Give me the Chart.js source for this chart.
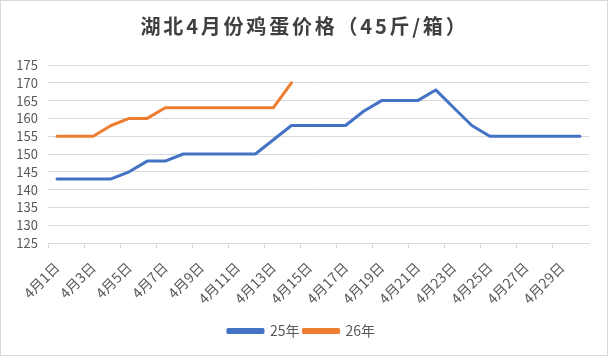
<!DOCTYPE html>
<html>
<head>
<meta charset="utf-8">
<script src="https://cdn.jsdelivr.net/npm/chart.js@4/dist/chart.umd.min.js"></script>
<style>
  html, body { margin: 0; padding: 0; background: #ffffff; }
  #wrap { width: 608px; height: 356px; position: relative; }
</style>
</head>
<body>
<div id="wrap"><canvas id="c" width="608" height="356"></canvas></div>
<script>
const titleText = "湖北4月份鸡蛋价格（45斤/箱）";
const categories = [
  "4月1日","4月2日","4月3日","4月4日","4月5日","4月6日","4月7日","4月8日","4月9日","4月10日",
  "4月11日","4月12日","4月13日","4月14日","4月15日","4月16日","4月17日","4月18日","4月19日","4月20日",
  "4月21日","4月22日","4月23日","4月24日","4月25日","4月26日","4月27日","4月28日","4月29日","4月30日"
];
const seriesNames = ["25年", "26年"];
const series25 = [143,143,143,143,145,148,148,150,150,150,150,150,154,158,158,158,158,162,165,165,165,168,163,158,155,155,155,155,155,155];
const series26 = [155,155,155,158,160,160,163,163,163,163,163,163,163,170];
const yTicks = [125,130,135,140,145,150,155,160,165,170,175];

const textColor = "#595959";
const gridColor = "#d9d9d9";
const fontFam = "'Noto Sans CJK SC', 'Noto Sans', sans-serif";

const frame = {
  id: "frame",
  beforeDraw(chart) {
    const ctx = chart.ctx;
    ctx.save();
    ctx.fillStyle = "#ffffff";
    ctx.fillRect(0, 0, chart.width, chart.height);
    ctx.strokeStyle = "#d9d9d9";
    ctx.lineWidth = 1;
    ctx.strokeRect(0.5, 0.5, chart.width - 1, chart.height - 1);
    ctx.restore();
  }
};

// letter spacing / small offset for the title text (canvas state only)
function wrapTitle(obj, spacing, dx) {
  if (!obj || obj.__wrapped) return;
  const orig = obj.draw;
  obj.draw = function () {
    const ctx = this.ctx;
    ctx.save();
    ctx.letterSpacing = spacing;
    ctx.translate(dx, 0);
    orig.apply(this, arguments);
    ctx.restore();
  };
  obj.__wrapped = true;
}
const spacingPlugin = {
  id: "spacing",
  afterUpdate(chart) {
    wrapTitle(chart.titleBlock, "2.8px", 3);
  }
};

new Chart(document.getElementById("c"), {
  type: "line",
  data: {
    labels: categories,
    datasets: [
      { label: seriesNames[0], data: series25, borderColor: "#4472C4", backgroundColor: "#4472C4",
        borderWidth: 3, pointRadius: 0, tension: 0, borderCapStyle: "round", borderJoinStyle: "round" },
      { label: seriesNames[1], data: series26, borderColor: "#ED7D31", backgroundColor: "#ED7D31",
        borderWidth: 3, pointRadius: 0, tension: 0, borderCapStyle: "round", borderJoinStyle: "round" }
    ]
  },
  options: {
    responsive: false,
    animation: false,
    devicePixelRatio: 1,
    layout: { padding: { left: 14, right: 19, top: 0, bottom: 8 } },
    plugins: {
      title: {
        display: true, text: titleText, color: "#404040",
        font: { family: fontFam, size: 20, weight: "bold", lineHeight: 1.2 },
        padding: { top: 14, bottom: 27 }
      },
      legend: {
        position: "bottom",
        labels: {
          color: textColor, font: { family: fontFam, size: 14 },
          boxWidth: 35, boxHeight: 3, padding: 4
        }
      },
      tooltip: { enabled: false }
    },
    scales: {
      x: {
        type: "category",
        offset: true,
        grid: {
          offset: true, drawOnChartArea: false, tickLength: 5,
          tickColor: (ctx) => (ctx.index % 2 === 0 ? gridColor : "rgba(0,0,0,0)")
        },
        border: { display: true, color: gridColor },
        ticks: {
          autoSkip: false, maxRotation: 45, minRotation: 45, padding: 11,
          color: textColor, font: { family: fontFam, size: 14 },
          callback: function (value, index) { return index % 2 === 0 ? this.getLabelForValue(value) : ""; }
        },
        afterFit: (s) => { s.height = 77; }
      },
      y: {
        min: yTicks[0], max: yTicks[yTicks.length - 1],
        afterBuildTicks: (s) => { s.ticks = yTicks.map(v => ({ value: v })); },
        grid: { color: gridColor, drawTicks: false },
        border: { display: false },
        ticks: { autoSkip: false, padding: 10, color: textColor, font: { family: fontFam, size: 13 } },
        afterFit: (s) => { s.width = 34; }
      }
    }
  },
  plugins: [frame, spacingPlugin]
});
</script>
</body>
</html>
